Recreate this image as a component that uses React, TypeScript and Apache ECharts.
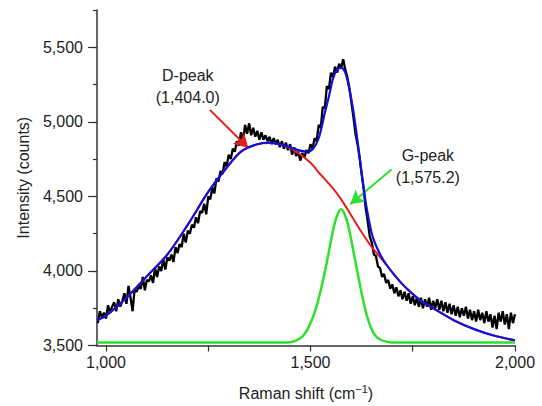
import React, { useEffect, useRef } from "react";
import * as echarts from "echarts";

// Measured spectrum (black): first Raman shift and spacing of the sampling grid
const measuredStart = 980;
const measuredStep = 5;
const measuredCounts = [
  3650, 3730, 3690, 3720, 3680, 3770, 3720, 3760, 3790, 3730,
  3810, 3760, 3800, 3850, 3780, 3900, 3820, 3730, 3880, 3860,
  3900, 3880, 3960, 3870, 3940, 3930, 3970, 3920, 4020, 3960,
  4030, 4000, 4080, 4010, 4090, 4070, 4110, 4060, 4160, 4120,
  4180, 4160, 4250, 4190, 4270, 4250, 4310, 4290, 4360, 4320,
  4400, 4390, 4450, 4380, 4500, 4480, 4560, 4520, 4620, 4600,
  4670, 4650, 4730, 4700, 4780, 4750, 4820, 4800, 4870, 4840,
  4930, 4870, 4980, 4920, 4990, 4910, 4960, 4900, 4940, 4880,
  4930, 4880, 4910, 4870, 4900, 4850, 4890, 4850, 4880, 4830,
  4870, 4820, 4860, 4810, 4850, 4780, 4830, 4770, 4800, 4740,
  4790, 4760, 4810, 4790, 4850, 4820, 4890, 4870, 4980, 4960,
  5100, 5090, 5240, 5220, 5330, 5300, 5370, 5330, 5390, 5360,
  5420, 5350, 5300, 5230, 5130, 5030, 4920, 4850, 4760, 4650,
  4550, 4420, 4330, 4230, 4190, 4110, 4100, 4030, 4020, 3960,
  3980, 3920, 3940, 3880, 3910, 3850, 3890, 3830, 3870, 3810,
  3860, 3800, 3850, 3780, 3830, 3770, 3820, 3760, 3820, 3750,
  3810, 3760, 3820, 3740, 3800, 3750, 3810, 3740, 3800, 3730,
  3790, 3720, 3780, 3710, 3770, 3700, 3760, 3690, 3750, 3700,
  3760, 3680, 3740, 3670, 3730, 3660, 3740, 3670, 3720, 3650,
  3730, 3660, 3710, 3620, 3700, 3610, 3720, 3660, 3730, 3640,
  3710, 3610, 3720, 3650, 3710,
];

// Cumulative fit (blue)
const fitShift = [978, 1000, 1050, 1100, 1150, 1200, 1250, 1290, 1330, 1370, 1400, 1440, 1470, 1490, 1505, 1520, 1535, 1545, 1555, 1565, 1575, 1585, 1595, 1605, 1615, 1625, 1635, 1650, 1665, 1680, 1700, 1720, 1740, 1770, 1800, 1850, 1900, 1950, 2000];
const fitCounts = [3672, 3700, 3820, 3965, 4110, 4310, 4530, 4675, 4800, 4850, 4860, 4838, 4810, 4800, 4815, 4890, 5060, 5170, 5290, 5350, 5362, 5330, 5220, 5070, 4870, 4660, 4460, 4250, 4140, 4065, 3990, 3925, 3870, 3800, 3750, 3670, 3610, 3565, 3535];

// D-peak component (red)
const dShift = [978, 1000, 1050, 1100, 1150, 1200, 1250, 1290, 1330, 1370, 1404, 1440, 1470, 1500, 1525, 1550, 1575, 1600, 1625, 1650, 1680, 1700, 1720, 1740, 1770, 1800, 1850, 1900, 1950, 2000];
const dCounts = [3672, 3700, 3820, 3965, 4110, 4310, 4530, 4675, 4800, 4850, 4858, 4835, 4790, 4725, 4645, 4570, 4480, 4370, 4260, 4160, 4060, 3990, 3925, 3870, 3800, 3750, 3670, 3610, 3565, 3535];

// G-peak component (green)
const gShift = [978, 1440, 1460, 1480, 1495, 1510, 1525, 1540, 1555, 1565, 1575, 1585, 1595, 1610, 1625, 1640, 1655, 1670, 1690, 1710, 2000];
const gCounts = [3520, 3520, 3528, 3560, 3620, 3720, 3870, 4060, 4270, 4370, 4413, 4370, 4270, 4060, 3850, 3680, 3580, 3540, 3524, 3520, 3520];

// Axis ticks
const xLabelValues = [1000, 1500, 2000];
const xTickValues = [1000, 1250, 1500, 1750, 2000];
const yLabelValues = [3500, 4000, 4500, 5000, 5500];

// Annotations
const dPeakLabel = "D-peak\n(1,404.0)";
const gPeakLabel = "G-peak\n(1,575.2)";
const dLabelAt = [1200, 5240];
const gLabelAt = [1787, 4700];
const dArrow = [[1254, 5080], [1348, 4825]];
const gArrow = [[1698, 4680], [1597, 4447]];

const FONT = '"Liberation Sans", Arial, Helvetica, sans-serif';
const fmt = (v: number) => Math.round(v).toLocaleString("en-US");

export default function App() {
  const ref = useRef<HTMLDivElement>(null);
  useEffect(() => {
    document.body.style.margin = "0";
    if (!ref.current) return;
    const chart = echarts.init(ref.current, undefined, { renderer: "svg" });
    const measured = measuredCounts.map((c, i) => [measuredStart + i * measuredStep, c]);
    const fit = fitShift.map((s, i) => [s, fitCounts[i]]);
    const dPeak = dShift.map((s, i) => [s, dCounts[i]]);
    const gPeak = gShift.map((s, i) => [s, gCounts[i]]);

    const arrowLine = (pts: number[][], color: string) => ({
      silent: true,
      symbol: ["none", "arrow"],
      symbolSize: [12, 14],
      label: { show: false },
      lineStyle: { color, width: 2, type: "solid" },
      data: [[{ coord: pts[0] }, { coord: pts[1] }]],
    });
    const textPoint = (text: string, at: number[]) => ({
      silent: true,
      symbol: "circle",
      symbolSize: 1,
      itemStyle: { color: "rgba(0,0,0,0)" },
      label: {
        show: true,
        position: "inside",
        formatter: text,
        color: "#222",
        fontSize: 16,
        lineHeight: 22,
        fontFamily: FONT,
      },
      data: [{ coord: at }],
    });

    chart.setOption({
      animation: false,
      backgroundColor: "#fff",
      textStyle: { fontFamily: FONT },
      grid: { left: 97, right: 27, top: 10, bottom: 59 },
      xAxis: {
        type: "value",
        min: 978,
        max: 2000,
        name: "Raman shift (cm{sup|\u22121})",
        nameLocation: "middle",
        nameGap: 38,
        nameTextStyle: {
          color: "#222",
          fontSize: 16,
          fontFamily: FONT,
          rich: { sup: { fontSize: 11, padding: [0, 0, 8, 0], color: "#222", fontFamily: FONT } },
        },
        axisLine: { show: true, lineStyle: { color: "#333", width: 1.5 } },
        axisTick: { show: true, length: 6, customValues: xTickValues, lineStyle: { color: "#333", width: 1.2 } },
        axisLabel: {
          customValues: xLabelValues,
          formatter: (v: number) => fmt(v),
          color: "#222",
          fontSize: 16,
          margin: 9,
          fontFamily: FONT,
        },
        splitLine: { show: false },
      },
      yAxis: [
        {
          type: "value",
          min: 3500,
          max: 5750,
          name: "Intensity (counts)",
          nameLocation: "middle",
          nameGap: 66,
          nameTextStyle: { color: "#222", fontSize: 16, fontFamily: FONT },
          axisLine: { show: true, lineStyle: { color: "#333", width: 1.5 } },
          axisTick: { show: true, length: 9, customValues: yLabelValues, lineStyle: { color: "#333", width: 1.2 } },
          axisLabel: {
            customValues: yLabelValues,
            formatter: (v: number) => (v % 500 === 0 ? fmt(v) : ""),
            color: "#222",
            fontSize: 16,
            margin: 14,
            fontFamily: FONT,
          },
          splitLine: { show: false },
        },
        {
          type: "value",
          min: 3500,
          max: 5750,
          interval: 250,
          position: "left",
          axisLine: { show: false },
          axisTick: { show: true, length: 4, lineStyle: { color: "#333", width: 1.2 } },
          axisLabel: { show: false },
          splitLine: { show: false },
        },
      ],
      series: [
        {
          type: "line",
          name: "measured",
          data: measured,
          showSymbol: false,
          symbol: "none",
          lineStyle: { color: "#000", width: 2.3 },
          z: 2,
        },
        {
          type: "line",
          name: "D-peak",
          data: dPeak,
          showSymbol: false,
          symbol: "none",
          smooth: 0.3,
          lineStyle: { color: "#e81e1e", width: 2 },
          markLine: arrowLine(dArrow, "#e81e1e"),
          markPoint: textPoint(dPeakLabel, dLabelAt),
          z: 3,
        },
        {
          type: "line",
          name: "G-peak",
          data: gPeak,
          showSymbol: false,
          symbol: "none",
          smooth: 0.3,
          lineStyle: { color: "#2ee02e", width: 2.5 },
          markLine: arrowLine(gArrow, "#2ee02e"),
          markPoint: textPoint(gPeakLabel, gLabelAt),
          z: 4,
        },
        {
          type: "line",
          name: "fit",
          data: fit,
          showSymbol: false,
          symbol: "none",
          smooth: 0.3,
          lineStyle: { color: "#1010dd", width: 2.2 },
          z: 5,
        },
      ],
    });
    return () => chart.dispose();
  }, []);
  return <div ref={ref} style={{ width: 542, height: 406 }} />;
}
